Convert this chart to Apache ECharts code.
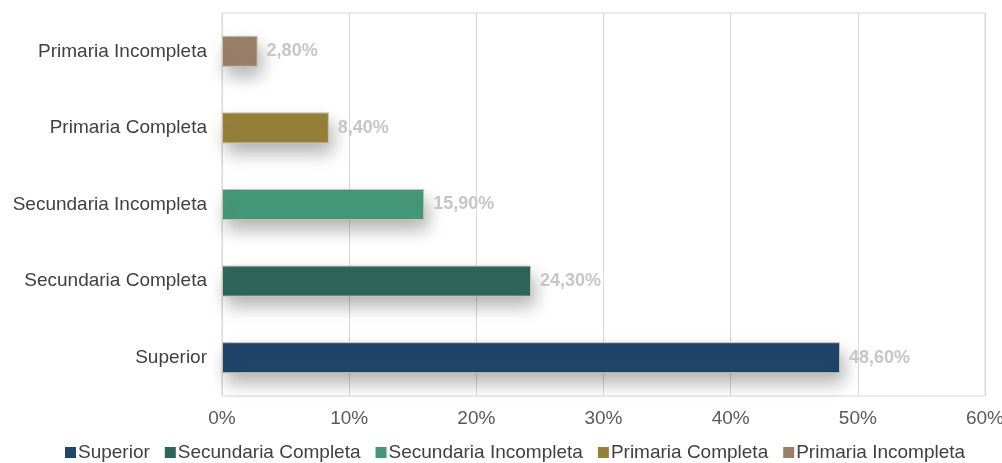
<!DOCTYPE html>
<html>
<head>
<meta charset="utf-8">
<script src="https://cdn.jsdelivr.net/npm/echarts@6/dist/echarts.min.js"></script>
<style>
  html, body { margin: 0; padding: 0; background: #fff; }
  #chart { width: 1002px; height: 463px; }
</style>
</head>
<body>
<div id="chart"></div>
<script>
// categorias de abajo hacia arriba
var categorias = ['Superior', 'Secundaria Completa', 'Secundaria Incompleta', 'Primaria Completa', 'Primaria Incompleta'];
var valores = [48.6, 24.3, 15.9, 8.4, 2.8];
var colores = ['#20446a', '#2e665c', '#449878', '#958139', '#9a7f69'];

var dom = document.getElementById('chart');
var myChart = echarts.init(dom, null, { renderer: 'canvas' });

function fmt(v) {
    return v.toFixed(2).replace('.', ',') + '%';
}

var series = categorias.map(function (nombre, i) {
    var data = categorias.map(function (c, j) { return j === i ? valores[i] : null; });
    return {
        name: nombre,
        type: 'bar',
        stack: 'total',
        barWidth: 31,
        data: data,
        itemStyle: {
            color: colores[i],
            borderColor: '#c9c2ad',
            borderWidth: 1,
            shadowColor: 'rgba(0,0,0,0.3)',
            shadowBlur: 18,
            shadowOffsetX: 4,
            shadowOffsetY: 10
        },
        label: {
            show: true,
            position: 'right',
            distance: 9,
            color: '#c6c6c6',
            fontWeight: 'bold',
            fontSize: 18,
            fontFamily: 'Liberation Sans',
            formatter: function (p) { return fmt(p.value); }
        }
    };
});

var option = {
    textStyle: { fontFamily: 'Liberation Sans' },
    grid: {
        left: 222,
        right: 17,
        top: 13,
        bottom: 67,
        containLabel: false,
        outerBoundsMode: 'none',
        show: true,
        borderColor: '#d9d9d9',
        borderWidth: 1
    },
    legend: {
        bottom: -4,
        left: 60,
        itemWidth: 11,
        itemHeight: 11,
        itemGap: 15,
        icon: 'rect',
        itemStyle: { borderWidth: 0, shadowBlur: 0, shadowOffsetX: 0, shadowOffsetY: 0 },
        textStyle: { color: '#404040', fontSize: 19, padding: [0, 0, 0, -3] },
        data: categorias
    },
    xAxis: {
        type: 'value',
        min: 0,
        max: 60,
        interval: 10,
        axisLine: { show: false },
        axisTick: { show: false },
        splitLine: { lineStyle: { color: '#d9d9d9' } },
        axisLabel: {
            color: '#595959',
            fontSize: 19,
            margin: 13,
            formatter: '{value}%'
        }
    },
    yAxis: {
        type: 'category',
        data: categorias,
        axisLine: { show: false },
        axisTick: { show: false },
        axisLabel: { color: '#404040', fontSize: 19, margin: 15 }
    },
    series: series
};

myChart.setOption(option);
window.addEventListener('resize', myChart.resize);
</script>
</body>
</html>
